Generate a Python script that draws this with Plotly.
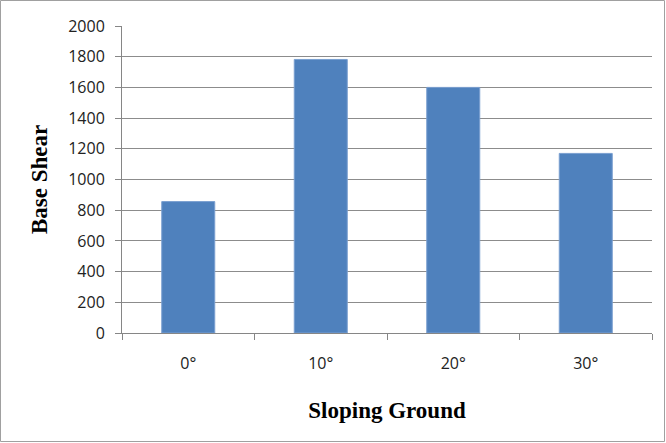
import plotly.graph_objects as go

categories = ["0°", "10°", "20°", "30°"]
base_shear = [856, 1782, 1600, 1170]
y_ticks = [0, 200, 400, 600, 800, 1000, 1200, 1400, 1600, 1800, 2000]

W, H = 666, 443
L, R, T, B = 122, 14, 26, 110

fig = go.Figure()
fig.add_trace(go.Bar(
    x=categories, y=base_shear, width=0.4,
    marker=dict(color="#4F81BD", line=dict(color="#7A9FD0", width=1)),
))

fig.update_layout(
    width=W, height=H,
    margin=dict(l=L, r=R, t=T, b=B, autoexpand=False),
    paper_bgcolor="white", plot_bgcolor="white",
    showlegend=False, bargap=0.6,
    font=dict(family="Open Sans", size=14, color="#222222"),
    xaxis=dict(
        type="category", automargin=False,
        showline=True, linecolor="#868686", linewidth=1,
        ticks="outside", ticklen=6, tickcolor="#868686",
        tickson="boundaries",
        showgrid=False,
        ticklabelstandoff=16,
        tickfont=dict(family="Open Sans", size=16, color="#222222"),
        title=dict(text="<b>Sloping Ground</b>", standoff=28,
                   font=dict(family="Liberation Serif", size=23, color="black")),
    ),
    yaxis=dict(
        range=[0, 2000], tickvals=y_ticks, automargin=False,
        showline=True, linecolor="#868686", linewidth=1,
        ticks="outside", ticklen=6, tickcolor="#868686",
        showgrid=True, gridcolor="#8C8C8C", gridwidth=1,
        zeroline=False,
        ticklabelstandoff=7,
        tickfont=dict(family="Open Sans", size=16, color="#222222"),
        title=dict(text="<b>Base Shear</b>", standoff=14,
                   font=dict(family="Liberation Serif", size=23, color="black")),
    ),
)

pw, ph = W - L - R, H - T - B
fig.add_shape(type="rect", xref="paper", yref="paper",
              x0=-(L - 0.5) / pw, x1=1 + (R - 1.5) / pw,
              y0=-(B - 1.5) / ph, y1=1 + (T - 0.5) / ph,
              line=dict(color="#A0A0A0", width=1), fillcolor="rgba(0,0,0,0)", layer="below")

fig.write_html("out.html", config={"displayModeBar": False},
               post_script="document.body.style.margin='0';document.body.style.overflow='hidden';")
